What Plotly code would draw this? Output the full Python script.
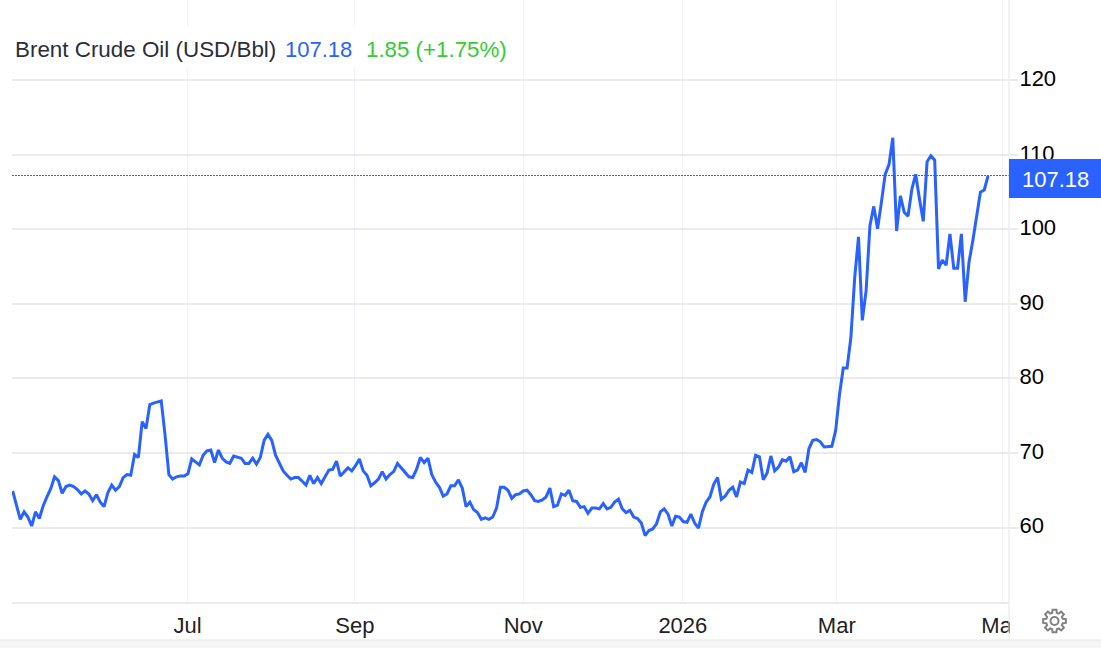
import math
import plotly.graph_objects as go

closes_part1 = [64.9,63.0,61.1,62.1,61.4,60.2,62.1,61.2,62.9,64.1,65.2,66.8,66.3,64.6,65.5,65.7,65.5,65.1,64.5,64.9,
 64.5,63.6,64.4,63.4,62.8,64.7,65.7,65.0,65.5,66.7,67.1,67.0,69.8,69.4,74.2,73.3,76.5,76.7,76.8,77.0,
 72.4,67.1,66.5,66.8,66.9,66.9,67.2,69.2,68.8,68.4,69.7,70.3,70.4,68.7,70.4,69.3,68.8,68.6,69.6,69.4,
 69.3,68.6,68.6,69.3,68.5,69.4,71.7,72.5,71.7,69.7,68.6,67.6,67.0,66.5,66.7,66.7,66.2,65.7,67.0,65.9,
 66.7,65.9,66.8,67.7,67.8,68.9,66.9,67.5,68.0]
closes_part2 = [67.6,68.3,69.2,67.6,67.0,65.6,66.0,66.5,67.5,66.5,67.1,67.5,68.6,68.0,67.5,66.8,66.7,67.8,69.4,68.7,
 69.3,67.1,66.1,65.4,64.2,64.5,65.6,65.6,66.4,65.3,62.8,63.4,62.4,62.0,61.1,61.3,61.1,61.4,62.6,65.4,
 65.4,65.0,63.9,64.4,64.5,64.9,65.0,64.4,63.6,63.5,63.7,64.1,65.3,62.8,63.0,64.5,64.3,65.0,63.6,63.5,
 62.7,62.8,61.9,62.6,62.6,62.5,63.2,62.5,62.7,63.4,63.8,62.5,62.0,62.3,61.4,61.2,60.6,58.9,59.6,59.8,
 60.5,62.1,62.5,61.8,60.2,61.5,61.4,60.8,60.7,61.8,60.6,59.9]
closes_part3 = [62.1,63.4,64.1,65.8,66.7,63.8,64.2,65.0,65.4,64.1,66.1,65.9,67.7,67.4,69.7,69.5,66.4,67.3,69.6,67.6,
 68.1,69.1,68.9,69.5,67.5,67.7,68.7,67.4,70.6,71.7,71.8,71.5,70.8,70.8,70.9,73.0,77.8,81.4,81.4]
closes_part4 = [85.5,93.5,99.0,87.8,91.8,100.5,103.1,100.1,103.6,107.4,108.7,112.3,99.8,104.5,102.3,101.8,105.4,107.4,
 104.1,101.1,109.1,109.9,109.3,94.7,95.9,95.2,99.4,94.8,94.8,99.4,90.3,95.6,98.5,101.8,105.0,105.3,107.18]
closes = closes_part1 + closes_part2 + closes_part3 + closes_part4
sessions = list(range(len(closes)))

month_positions = [45.9, 89.8, 134.0, 175.9, 216.3, 259.7]
month_labels = ["Jul", "Sep", "Nov", "2026", "Mar", "May"]
price_ticks = [60, 70, 80, 90, 100, 110, 120]
last_price = 107.18

BLUE = "#2962ff"
GRID_H = "#ebebeb"
GRID_V = "#eef2f6"
FONT = "Liberation Sans"
W, H = 1101, 648
L, R, B = 12, 1009, 602


def px(x):
    return (x - L) / (R - L)


def py(y):
    return (B - y) / B


def rect(x0, y0, x1, y1, fill, layer="above"):
    return dict(type="rect", xref="paper", yref="paper", x0=px(x0), x1=px(x1), y0=py(y1), y1=py(y0),
                fillcolor=fill, line_width=0, layer=layer)


def gear_path(cx, cy, r_out, r_in, teeth=8):
    pts = []
    for t in range(teeth):
        base = 2 * math.pi * t / teeth
        for off, r in [(-0.27, r_in), (-0.17, r_out), (0.17, r_out), (0.27, r_in)]:
            a = base + off
            pts.append((cx + r * math.cos(a), cy + r * math.sin(a)))
    return "M" + " L".join(f"{px(x):.5f},{py(y):.5f}" for x, y in pts) + " Z"


def circle_shape(cx, cy, r):
    return dict(type="circle", xref="paper", yref="paper", x0=px(cx - r), x1=px(cx + r), y0=py(cy + r), y1=py(cy - r),
                line=dict(color="#808080", width=2), fillcolor="rgba(0,0,0,0)", layer="above")


fig = go.Figure(go.Scatter(x=sessions, y=closes, mode="lines",
                           line=dict(color=BLUE, width=3), hoverinfo="skip", cliponaxis=False))

shapes = [
    rect(12, 27, 510, 68, "white"),
    dict(type="line", xref="paper", yref="y", x0=0, x1=1, y0=last_price + 0.06, y1=last_price + 0.06,
         line=dict(color=BLUE, width=1, dash="2px,1px"), layer="above"),
    rect(1010, 605, 1032, 639, "white"),
    dict(type="line", xref="paper", yref="paper", x0=1, x1=1, y0=py(640), y1=1,
         line=dict(color="#e6e6e6", width=1), layer="above"),
    rect(1009, 159, 1101, 198, BLUE),
    rect(0, 640, 1101, 648, "#f5f5f5"),
    dict(type="line", xref="paper", yref="paper", x0=px(0), x1=px(1101), y0=py(640), y1=py(640),
         line=dict(color="#e6e6e6", width=1), layer="above"),
    dict(type="path", xref="paper", yref="paper", path=gear_path(1054.5, 621, 11.5, 8.5),
         line=dict(color="#808080", width=2), fillcolor="rgba(0,0,0,0)", layer="above"),
    circle_shape(1054.5, 621, 4),
]


def label(x, y, text, color, size=22, anchor="left"):
    return dict(xref="paper", yref="paper", x=px(x), y=py(y), text=text, showarrow=False,
                xanchor=anchor, yanchor="middle", font=dict(family=FONT, size=size, color=color),
                borderpad=0, borderwidth=0)


annotations = [
    label(15, 49, "Brent Crude Oil (USD/Bbl)", "#2a2e39", size=22.4),
    label(285, 49, "107.18", BLUE),
    label(366, 49, "1.85 (+1.75%)", "#33cc33", size=22.3),
    label(1022, 179, "107.18", "white"),
]

fig.update_layout(
    width=W, height=H, margin=dict(l=L, r=W - R, t=0, b=H - B, pad=0),
    paper_bgcolor="white", plot_bgcolor="white", showlegend=False,
    font=dict(family=FONT, size=22, color="#000000"),
    shapes=shapes, annotations=annotations,
    xaxis=dict(range=[-0.17, 261.5], tickmode="array", tickvals=month_positions, ticktext=month_labels,
               showgrid=True, gridcolor=GRID_V, gridwidth=1, zeroline=False,
               showline=True, linecolor=GRID_H, linewidth=1.5,
               ticks="outside", ticklen=3, tickcolor="rgba(0,0,0,0)", tickfont=dict(color="#222222", size=22)),
    yaxis=dict(range=[50, 130.8], side="right", tickmode="array", tickvals=price_ticks,
               showgrid=True, gridcolor=GRID_H, gridwidth=1.5, zeroline=False, showline=False,
               ticks="outside", ticklen=8, tickcolor=GRID_H, tickwidth=1.5, tickfont=dict(color="#000000", size=22),
               ticklabelstandoff=-3, ticklabelshift=-2),
)

fig.write_html("out.html", config=dict(displayModeBar=False),
               post_script="document.body.style.margin='0';document.documentElement.style.overflow='hidden';")
